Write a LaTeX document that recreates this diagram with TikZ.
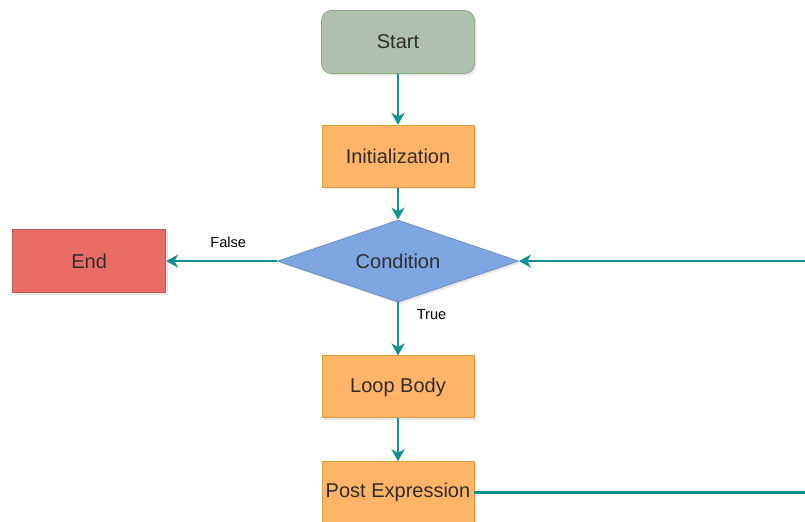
\documentclass[tikz,border=0pt]{standalone}
\usepackage{fontspec}
\setmainfont{Liberation Sans}
\usetikzlibrary{shapes, positioning, arrows.meta, shadows}
\definecolor{sagefill}{RGB}{174,192,174}
\definecolor{sagedraw}{RGB}{140,170,130}
\definecolor{orangefill}{RGB}{255,180,104}
\definecolor{orangedraw}{RGB}{215,160,60}
\definecolor{redfill}{RGB}{234,108,102}
\definecolor{reddraw}{RGB}{190,90,86}
\definecolor{bluefill}{RGB}{126,166,224}
\definecolor{bluedraw}{RGB}{108,142,191}
\definecolor{flowteal}{RGB}{18,145,148}
\definecolor{textgray}{RGB}{45,45,45}
\tikzset{
	terminal/.style={rectangle,
		draw=sagedraw,
		fill=sagefill,
		rounded corners=5pt,
		minimum width=76.5pt,
		minimum height=31.5pt,
		drop shadow={shadow xshift=1pt, shadow yshift=-1pt, opacity=0.2},
		},
	process/.style={rectangle,
		draw=orangedraw,
		fill=orangefill,
		inner xsep=1pt,
		minimum width=76pt,
		minimum height=31pt,
		drop shadow={shadow xshift=1pt, shadow yshift=-1pt, opacity=0.2},
		},
	stopbox/.style={rectangle,
		draw=reddraw,
		fill=redfill,
		minimum width=76.5pt,
		minimum height=31.5pt,
		drop shadow={shadow xshift=1pt, shadow yshift=-1pt, opacity=0.2},
		},
	decision/.style={diamond,
		aspect=2.9,
		inner sep=0pt,
		draw=bluedraw,
		fill=bluefill,
		minimum width=120.5pt,
		minimum height=41pt,
		drop shadow={shadow xshift=1pt, shadow yshift=-1pt, opacity=0.2},
		},
	every node/.style={font=\fontsize{10}{12}\selectfont, text=textgray},
	flow/.style={draw=flowteal, line width=1.2pt, -{Stealth[length=6pt, width=6.5pt, inset=1.8pt]}},
	branch/.style={font=\fontsize{7.3}{9}\selectfont, text=black},
}

\begin{document}
\begin{tikzpicture}[x=0.5pt, y=-0.5pt]

   \useasboundingbox (0,0) rectangle (805,522);
   \clip (0,0) rectangle (805,522);

   \node[terminal] (start) at (398,42) {Start};
   \node[process, below=25.5pt of start] (init) {Initialization};
   \node[decision, below=16pt of init] (cond) {Condition};
   \node[stopbox, left=55.5pt of cond] (end) {End};
   \node[process, below=26.5pt of cond] (body) {Loop Body};
   \node[process, below=21.5pt of body] (post) {Post Expression};

   \coordinate (rim) at (840,0);

   \draw[flow] (start) -- (init);
   \draw[flow] (init) -- (cond);
   \draw[flow] (cond.west) -- (end.east)
   	node[branch, pos=0.44, above=3pt] {False};
   \draw[flow] (cond.south) -- (body.north)
   	node[branch, pos=0.23, right=5.5pt] {True};
   \draw[flow] (body) -- (post);
   \draw[flow] (post.east) -| (rim |- cond.east) -- (cond.east);

\end{tikzpicture}
\end{document}
